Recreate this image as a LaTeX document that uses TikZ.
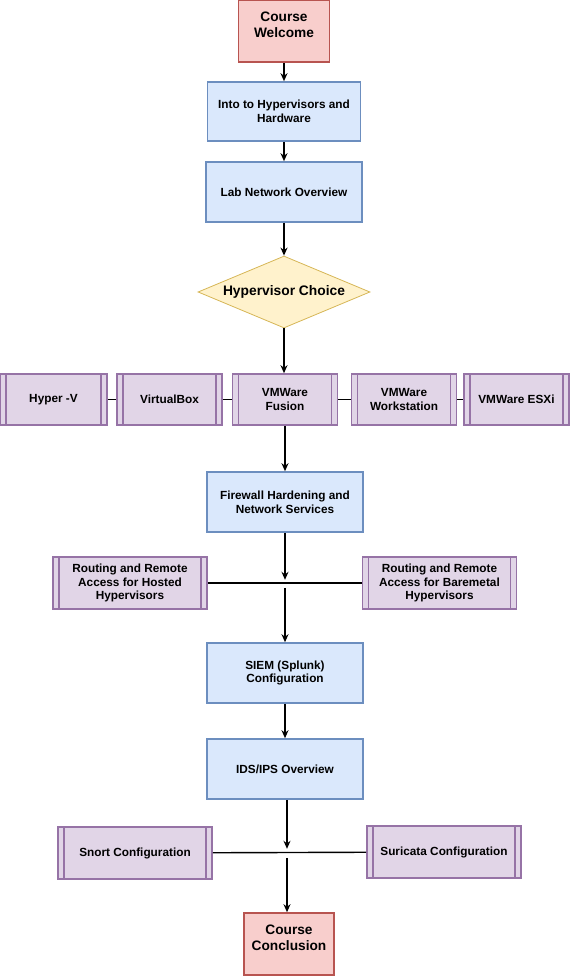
\documentclass[tikz,border=0pt]{standalone}
\usepackage{fontspec}
\setmainfont{Liberation Sans}
\usetikzlibrary{positioning, shapes.geometric, arrows.meta}

\definecolor{redfill}{HTML}{F8CECC}
\definecolor{redline}{HTML}{B85450}
\definecolor{bluefill}{HTML}{DAE8FC}
\definecolor{blueline}{HTML}{6C8EBF}
\definecolor{yellowfill}{HTML}{FFF2CC}
\definecolor{yellowline}{HTML}{D6B656}
\definecolor{purpfill}{HTML}{E1D5E7}
\definecolor{purpline}{HTML}{9673A6}

\tikzset{
  box/.style={rectangle, draw=blueline, fill=bluefill, line width=1.6pt,
    minimum width=156pt, minimum height=60pt, align=center,
    font=\fontsize{11.8}{13.8}\selectfont\bfseries},
  endbox/.style={box, draw=redline, fill=redfill, minimum width=91pt,
    minimum height=62pt, text depth=13pt,
    font=\fontsize{13.7}{16.3}\selectfont\bfseries},
  choice/.style={diamond, aspect=2.4, draw=yellowline, fill=yellowfill,
    line width=0.8pt, minimum width=172pt, minimum height=72pt, inner sep=1pt,
    font=\fontsize{13.8}{16}\selectfont\bfseries},
  subproc/.style={box, draw=purpline, fill=purpfill, minimum width=105pt,
    minimum height=51pt,
    path picture={\draw[purpline, line width=1.6pt]
      ([xshift=6pt]path picture bounding box.north west) -- ([xshift=6pt]path picture bounding box.south west)
      ([xshift=-6pt]path picture bounding box.north east) -- ([xshift=-6pt]path picture bounding box.south east);}},
}

\begin{document}
\begin{tikzpicture}[x=1pt, y=1pt, on grid, >={Stealth[length=8pt, width=7pt]}, line width=1.4pt]

   \useasboundingbox (0,0) rectangle (570,-976);

   % main line
   \node[endbox] (welcome) at (284,-31) {Course\\Welcome};
   \node[box, minimum width=153pt, minimum height=59pt] (intro) [below=80.5pt of welcome] {Into to Hypervisors and\\Hardware};
   \node[box] (lab) [below=80.5pt of intro] {Lab Network Overview};
   \node[choice] (choice) [below=100pt of lab] {Hypervisor Choice};

   % hypervisors
   \node[subproc] (fusion) [below right=107.5pt and 1pt of choice] {VMWare\\Fusion};
   \node[subproc] (vbox) [left=115.5pt of fusion] {VirtualBox};
   \node[subproc, minimum width=107pt] (hyperv) [left=116pt of vbox] {Hyper -V};
   \node[subproc] (workst) [right=119pt of fusion] {VMWare\\Workstation};
   \node[subproc] (esxi) [right=112.5pt of workst] {VMWare ESXi};

   \node[box] (firewall) [below=102.5pt of fusion] {Firewall Hardening and\\Network Services};
   \node[subproc, minimum width=154pt, minimum height=52pt] (hosted) [below left=81pt and 155pt of firewall] {Routing and Remote\\Access for Hosted\\Hypervisors};
   \node[subproc, minimum width=154pt, minimum height=52pt] (bare) [below right=81pt and 154.5pt of firewall] {Routing and Remote\\Access for Baremetal\\Hypervisors};

   \node[box] (siem) [below=171pt of firewall] {SIEM (Splunk)\\Configuration};
   \node[box] (ids) [below=96pt of siem] {IDS/IPS Overview};
   \node[subproc, minimum width=154pt, minimum height=52pt] (snort) [below left=84pt and 150pt of ids] {Snort Configuration};
   \node[subproc, minimum width=154pt, minimum height=52pt] (suricata) [below right=83pt and 159pt of ids] {Suricata Configuration};
   \node[endbox, minimum width=90pt] (conclusion) [below right=175pt and 4pt of ids] {Course\\Conclusion};

   % gaps at the crossings
   \coordinate (fwend) at ([yshift=-47pt]firewall.south);
   \coordinate (siemgo) at ([yshift=-55pt]firewall.south);
   \coordinate (idsend) at ([xshift=2pt, yshift=-49pt]ids.south);
   \coordinate (idsgo) at ([xshift=2pt, yshift=-58pt]ids.south);

   \path[->]
    (welcome) edge (intro)
    (intro) edge (lab)
    (lab) edge (choice)
    (choice.south) edge (fusion.north -| choice.south)
    (fusion) edge (firewall)
    (firewall) edge (fwend)
    (siemgo) edge (siem)
    (siem) edge (ids)
    ([xshift=2pt]ids.south) edge (idsend)
    (idsgo) edge (idsgo |- conclusion.north);

   \path
    (hyperv) edge (vbox)
    (vbox) edge (fusion)
    (fusion) edge (workst)
    (workst) edge (esxi)
    (hosted) edge (bare)
    (snort) edge (suricata);

\end{tikzpicture}
\end{document}
